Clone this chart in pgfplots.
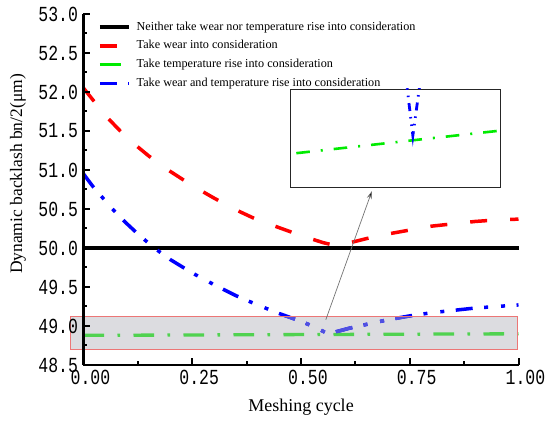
\documentclass[border=0pt]{standalone}
\usepackage{fontspec}
\setmainfont{Liberation Serif}
\setmonofont{Liberation Mono}
\usepackage{pgfplots}
\pgfplotsset{compat=1.18}
\usetikzlibrary{arrows.meta}
\definecolor{cred}{RGB}{255,0,0}
\definecolor{cgreen}{RGB}{0,235,0}
\definecolor{cgreendim}{RGB}{80,210,80}
\definecolor{cblue}{RGB}{0,0,255}
\definecolor{cbluedim}{RGB}{80,80,225}
\definecolor{rectfill}{RGB}{220,220,224}
\definecolor{rectedge}{RGB}{236,118,118}

\pgfplotstableread{
x y
0 50
1 50
}\blackdata
\pgfplotstableread{
x y
0.00 52.05
0.05 51.70
0.10 51.41
0.15 51.18
0.20 50.98
0.25 50.80
0.30 50.64
0.35 50.49
0.40 50.36
0.45 50.26
0.50 50.16
0.55 50.07
0.58 50.03
0.60 50.05
0.65 50.12
0.70 50.18
0.75 50.23
0.80 50.28
0.85 50.31
0.90 50.34
0.95 50.36
1.00 50.37
}\reddata
\pgfplotstableread{
x y
0.00 48.880
0.25 48.885
0.50 48.890
0.75 48.895
1.00 48.900
}\greendata
\pgfplotstableread{
x y
0.00 50.95
0.02 50.80
0.04 50.67
0.06 50.54
0.08 50.42
0.10 50.31
0.125 50.18
0.15 50.06
0.175 49.95
0.20 49.85
0.25 49.68
0.30 49.53
0.35 49.39
0.40 49.27
0.45 49.16
0.50 49.06
0.53 48.99
0.555 48.92
0.565 48.905
0.58 48.925
0.61 48.97
0.65 49.02
0.70 49.08
0.75 49.13
0.80 49.17
0.85 49.20
0.90 49.23
0.95 49.25
1.00 49.27
}\bluedata
\pgfplotstableread{
x y
0.503 48.8869
0.600 48.8915
}\insetgreen
\pgfplotstableread{
x y
0.5550 48.9030
0.5585 48.8905
0.5625 48.9030
}\insetblue

\tikzset{
  redstyle/.style={cred, line width=3.5pt, dash pattern=on 17pt off 23pt},
  greenpat/.style={line width=3.3pt, dash pattern=on 20.7pt off 13.3pt on 2.7pt off 13.3pt},
  bluepat/.style={line width=3.5pt, dash pattern=on 17pt off 11.5pt on 4pt off 13pt on 4pt off 11.5pt},
  blackstyle/.style={black, line width=3.5pt},
}

\begin{document}
\begin{tikzpicture}
\begin{axis}[
  at={(83.5pt,58pt)}, anchor=south west,
  scale only axis, width=435pt, height=351pt,
  xmin=0, xmax=1, ymin=48.5, ymax=53,
  axis lines=left,
  axis on top,
  axis line style={line width=2.8pt, -},
  xtick={0,0.25,0.5,0.75,1},
  ytick={48.5,49,49.5,50,50.5,51,51.5,52,52.5,53},
  minor x tick num=1, minor y tick num=1,
  tick align=inside,
  major tick length=7pt, minor tick length=4pt,
  every tick/.style={black, line width=2pt},
  /pgf/number format/assume math mode=true,
  ticklabel style={font=\ttfamily\fontsize{16.5}{16.5}\selectfont},
  xticklabel={\scalebox{1}[1.3]{\pgfmathprintnumber[fixed,fixed zerofill,precision=2]{\tick}}},
  yticklabel={\scalebox{1}[1.3]{\pgfmathprintnumber[fixed,fixed zerofill,precision=1]{\tick}}},
  xticklabel style={xshift=7pt, yshift=-2pt},
  yticklabel style={xshift=-2pt},
  xlabel={Meshing cycle},
  ylabel={Dynamic backlash bn/2(μm)},
  every axis x label/.style={at={(axis description cs:0.5,-0.133)}, anchor=base, font=\fontsize{18}{20}\selectfont},
  every axis y label/.style={at={(axis description cs:-0.141,0.544)}, rotate=90, anchor=base, font=\fontsize{17.5}{20}\selectfont},
  clip=false,
  legend style={at={(axis description cs:0.0333,0.980)}, anchor=north west, draw=none, fill=none,
    font=\fontsize{12.2}{14}\selectfont, inner sep=0pt, row sep=6.7pt,
    nodes={inner sep=0pt, text height=9pt, text depth=3pt},
    /tikz/every odd column/.append style={column sep=6pt}},
  legend cell align=left,
  legend image code/.code={\draw[#1] (0pt,0pt) -- (29pt,0pt);},
]
\fill[rectfill] (axis cs:-0.029,48.705) rectangle (axis cs:0.997,49.12);
\addplot[blackstyle] table {\blackdata};
\addlegendentry{Neither take wear nor temperature rise into consideration}
\addplot[redstyle] table {\reddata};
\addlegendentry{Take wear into consideration}
\addlegendimage{cgreen, greenpat}
\addlegendentry{Take temperature rise into consideration}
\addplot[cblue, bluepat] table {\bluedata};
\addlegendentry{Take wear and temperature rise into consideration}
\addplot[cgreendim, greenpat, forget plot] table {\greendata};
\begin{scope}
\clip (axis cs:-0.029,48.705) rectangle (axis cs:0.997,49.12);
\addplot[cbluedim, bluepat, forget plot] table {\bluedata};
\end{scope}
\draw[rectedge, line width=1pt] (axis cs:-0.029,48.705) rectangle (axis cs:0.997,49.12);
\draw[black!55, line width=0.7pt, -{Stealth[length=8pt,width=5pt,fill=black]}] (axis cs:0.557,49.08) -- (axis cs:0.663,50.73);
\end{axis}
\begin{axis}[
  at={(290pt,236pt)}, anchor=south west,
  scale only axis, width=210pt, height=98pt,
  xmin=0.5, xmax=0.6, ymin=48.88, ymax=48.90,
  xtick=\empty, ytick=\empty,
  axis line style={line width=0.9pt, black!85},
  axis background/.style={fill=white},
]
\addplot[cgreen, line width=2.6pt, dash pattern=on 13.6pt off 11pt on 2pt off 11pt] table {\insetgreen};
\addplot[cblue, line width=2.8pt, dash pattern=on 8pt off 6pt on 1.5pt off 6pt on 1.5pt off 6pt] table {\insetblue};
\end{axis}
\pgfresetboundingbox
\useasboundingbox (0,0) rectangle (550pt,423pt);
\end{tikzpicture}
\end{document}
